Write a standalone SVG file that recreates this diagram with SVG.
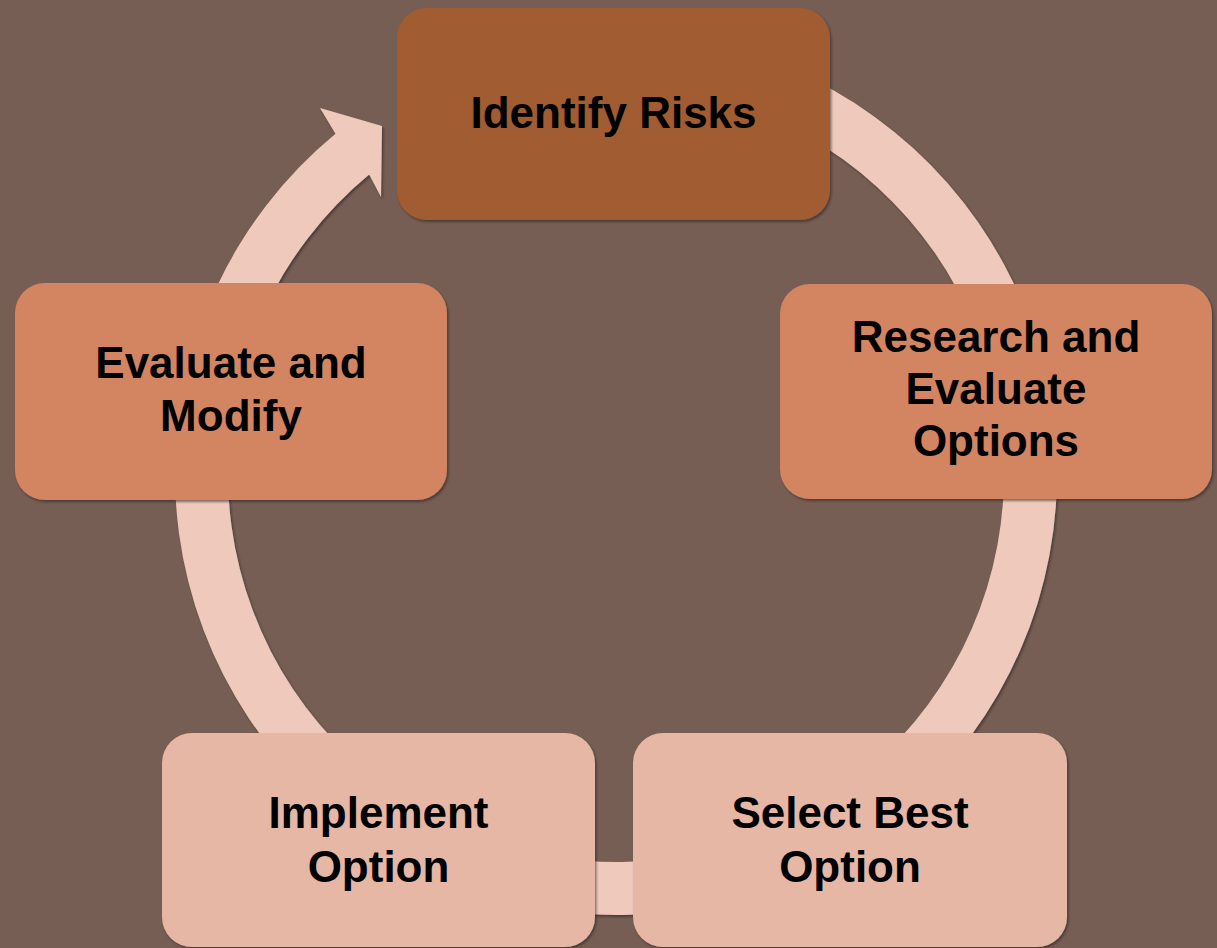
<svg xmlns="http://www.w3.org/2000/svg" width="1217" height="948" viewBox="0 0 1217 948">
  <defs>
    <filter id="sh" x="-5%" y="-5%" width="110%" height="110%">
      <feDropShadow dx="1.5" dy="2" stdDeviation="1.2" flood-color="#2a1f1a" flood-opacity="0.55"/>
    </filter>
  </defs>
  <style>
    .node rect { filter: url(#sh); }
    .dark { fill: #A15B33; }
    .mid { fill: #D38562; }
    .light { fill: #E5B7A4; }
    text { font-family: "Liberation Sans", Arial, sans-serif; font-weight: bold; font-size: 44px; fill: #000; text-anchor: middle; }
  </style>
  <rect width="1217" height="948" fill="#765E54"/>
  <g id="connectors" filter="url(#sh)">
    <path fill="#EFCABC" d="M 692.6 39.7 A 441 441 0 1 1 335.5 133.7 L 320 108 L 382 126 L 381 197 L 369.2 174.6 A 388 388 0 1 0 683.4 91.9 Z"/>
  </g>
  <g id="identify-risks" class="node">
    <rect class="dark" x="397" y="8" width="433" height="212" rx="30"/>
    <text x="613.5" y="128">Identify Risks</text>
  </g>
  <g id="research" class="node">
    <rect class="mid" x="780" y="284" width="432" height="215" rx="30"/>
    <text x="996" y="352">Research and</text>
    <text x="996" y="404">Evaluate</text>
    <text x="996" y="456">Options</text>
  </g>
  <g id="select-best" class="node">
    <rect class="light" x="633" y="733" width="434" height="214" rx="30"/>
    <text x="850" y="828">Select Best</text>
    <text x="850" y="882">Option</text>
  </g>
  <g id="implement" class="node">
    <rect class="light" x="162" y="733" width="433" height="214" rx="30"/>
    <text x="378.5" y="828">Implement</text>
    <text x="378.5" y="882">Option</text>
  </g>
  <g id="evaluate-modify" class="node">
    <rect class="mid" x="15" y="283" width="432" height="217" rx="30"/>
    <text x="231" y="378">Evaluate and</text>
    <text x="231" y="431">Modify</text>
  </g>
</svg>
